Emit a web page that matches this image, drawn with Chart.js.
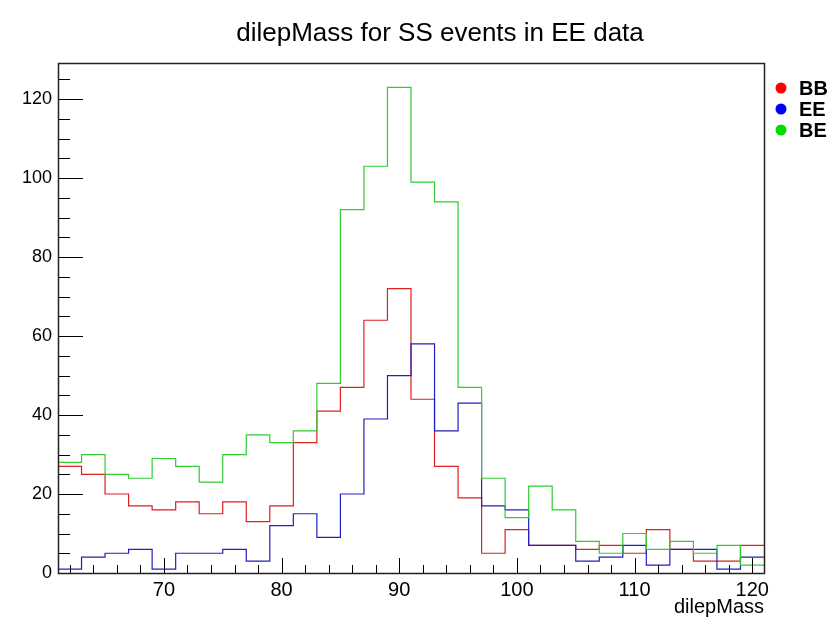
<!DOCTYPE html>
<html>
<head>
<meta charset="utf-8">
<script src="https://cdn.jsdelivr.net/npm/chart.js@4.4.0/dist/chart.umd.min.js"></script>
<style>
  html, body { margin: 0; padding: 0; background: #ffffff; }
  #wrap { width: 833px; height: 617px; }
</style>
</head>
<body>
<div id="wrap"><canvas id="c" width="833" height="617"></canvas></div>
<script>
// Histogram bins: lower edges of each 2 GeV bin, plus the upper edge of the last bin
const binLow = [61, 63, 65, 67, 69, 71, 73, 75, 77, 79,
                81, 83, 85, 87, 89, 91, 93, 95, 97, 99,
                101, 103, 105, 107, 109, 111, 113, 115, 117, 119];
const binHigh = 121;

// Entries per bin for each category
const bbCounts = [27, 25, 20, 17, 16, 18, 15, 18, 13, 17,
                  33, 41, 47, 64, 72, 44, 27, 19, 5, 11,
                  7, 7, 6, 7, 5, 11, 6, 3, 3, 7];
const eeCounts = [1, 4, 5, 6, 1, 5, 5, 6, 3, 12,
                  15, 9, 20, 39, 50, 58, 36, 43, 17, 16,
                  7, 7, 3, 4, 7, 2, 6, 6, 1, 4];
const beCounts = [28, 30, 25, 24, 29, 27, 23, 30, 35, 33,
                  36, 48, 92, 103, 123, 99, 94, 47, 24, 14,
                  22, 16, 8, 5, 10, 6, 8, 5, 7, 2];

const seriesNames = ['BB', 'EE', 'BE'];
const xTickValues = [70, 80, 90, 100, 110, 120];
const yTickValues = [0, 20, 40, 60, 80, 100, 120];

const titleText = 'dilepMass for SS events in EE data';
const xAxisTitle = 'dilepMass';

const FONT = '"Liberation Sans", Arial, Helvetica, sans-serif';

// Turn per-bin counts into step-line points (one point per lower edge + closing edge)
function toSteps(counts) {
  const pts = counts.map((v, i) => ({ x: binLow[i], y: v }));
  pts.push({ x: binHigh, y: counts[counts.length - 1] });
  return pts;
}

const lineColors = ['#dd2020', '#2020c0', '#30cc30'];
const markerColors = ['#ff0000', '#0000ff', '#00dd00'];

function histDataset(label, counts, color, order) {
  return {
    label: label,
    data: toSteps(counts),
    borderColor: color,
    borderWidth: 1.2,
    stepped: 'before',
    pointRadius: 0,
    fill: false,
    tension: 0,
    order: order
  };
}

// Frame, inward tick marks, title and legend in the ROOT style
const rootStyle = {
  id: 'rootStyle',
  afterDraw(chart) {
    const ctx = chart.ctx;
    const a = chart.chartArea;
    const xs = chart.scales.x;
    const ys = chart.scales.y;
    ctx.save();

    // axis ticks pointing into the frame
    ctx.strokeStyle = '#000';
    ctx.lineWidth = 1;
    ctx.beginPath();
    for (let v = 62; v <= 120; v += 2) {
      const px = Math.round(xs.getPixelForValue(v)) + 0.5;
      const len = (v % 10 === 0) ? 15 : 8;
      ctx.moveTo(px, a.bottom);
      ctx.lineTo(px, a.bottom - len);
    }
    for (let v = 0; v <= 125; v += 5) {
      const py = Math.round(ys.getPixelForValue(v)) + 0.5;
      const len = (v % 20 === 0) ? 25 : 12;
      ctx.moveTo(a.left, py);
      ctx.lineTo(a.left + len, py);
    }
    ctx.stroke();

    // frame
    ctx.strokeStyle = '#222';
    ctx.lineWidth = 1.5;
    ctx.strokeRect(Math.round(a.left) + 0.5, Math.round(a.top) + 0.5,
                   Math.round(a.right - a.left), Math.round(a.bottom - a.top));

    // title
    ctx.fillStyle = '#000';
    ctx.font = '26px ' + FONT;
    ctx.textAlign = 'center';
    ctx.textBaseline = 'alphabetic';
    ctx.fillText(titleText, 440, 41);

    // legend
    ctx.font = 'bold 20px ' + FONT;
    ctx.textAlign = 'left';
    ctx.textBaseline = 'middle';
    chart.data.datasets.forEach((ds, i) => {
      const y = 88 + i * 21;
      ctx.fillStyle = markerColors[i];
      ctx.beginPath();
      ctx.arc(781, y, 5.5, 0, Math.PI * 2);
      ctx.fill();
      ctx.fillStyle = '#000';
      ctx.fillText(ds.label, 799, y + 1);
    });
    ctx.restore();
  }
};

new Chart(document.getElementById('c'), {
  type: 'line',
  data: {
    datasets: [
      histDataset(seriesNames[0], bbCounts, lineColors[0], 3),
      histDataset(seriesNames[1], eeCounts, lineColors[1], 2),
      histDataset(seriesNames[2], beCounts, lineColors[2], 1)
    ]
  },
  options: {
    responsive: false,
    animation: false,
    devicePixelRatio: 1,
    layout: { padding: { top: 63, right: 69, left: 0, bottom: 0 } },
    plugins: {
      legend: { display: false },
      title: { display: false },
      tooltip: { enabled: false }
    },
    scales: {
      x: {
        type: 'linear',
        min: 61,
        max: 121,
        grid: { display: false, drawTicks: false },
        border: { display: false },
        afterBuildTicks(scale) { scale.ticks = xTickValues.map(v => ({ value: v })); },
        afterFit(scale) { scale.height = 44; },
        ticks: {
          autoSkip: false,
          maxRotation: 0,
          padding: 5,
          color: '#000',
          font: { family: FONT, size: 20 }
        },
        title: {
          display: true,
          text: xAxisTitle,
          align: 'end',
          color: '#000',
          font: { family: FONT, size: 20, lineHeight: 1 },
          padding: { top: 0, bottom: 0 }
        }
      },
      y: {
        type: 'linear',
        min: 0,
        max: 129.15,
        grid: { display: false, drawTicks: false },
        border: { display: false },
        afterBuildTicks(scale) { scale.ticks = yTickValues.map(v => ({ value: v })); },
        afterFit(scale) { scale.width = 58; },
        ticks: {
          autoSkip: false,
          padding: 6,
          color: '#000',
          font: { family: FONT, size: 18 }
        }
      }
    }
  },
  plugins: [rootStyle]
});
</script>
</body>
</html>
